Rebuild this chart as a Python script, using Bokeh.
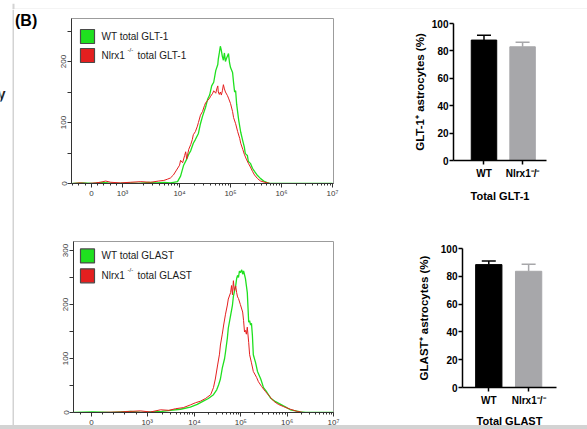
import numpy as np
from bokeh.plotting import figure
from bokeh.layouts import row, column
from bokeh.models import Range1d, FixedTicker, Whisker, TeeHead, ColumnDataSource
from bokeh.embed import file_html
from bokeh.resources import INLINE
from bokeh.core.properties import value

# ---------------- data ----------------
# Flow histograms: x = fluorescence in log10 display units, y = cell count
glt_wt_x = [1.90, 2.10, 2.30, 2.45, 2.60, 2.80, 3.00, 3.20, 3.40, 3.55,
            3.70, 3.82, 3.88, 3.96, 4.02, 4.08, 4.14, 4.18, 4.22, 4.27,
            4.31, 4.37, 4.41, 4.45, 4.51, 4.55, 4.59, 4.63, 4.67, 4.71,
            4.75, 4.76, 4.78, 4.80, 4.82, 4.84, 4.86, 4.88, 4.90, 4.92,
            4.96, 4.98, 5.00, 5.04, 5.06, 5.08, 5.10, 5.12, 5.16, 5.20,
            5.24, 5.27, 5.29, 5.33, 5.35, 5.39, 5.43, 5.47, 5.53, 5.59,
            5.65, 5.71, 5.78, 6.00, 6.50, 7.00]
glt_wt_y = [0, 1, 0, 2, 1, 0, 1, 0, 2, 1,
            2, 1, 2, 3, 12, 30, 40, 48, 54, 66,
            72, 82, 98, 110, 125, 138, 145, 160, 166, 185,
            195, 204, 214, 225, 218, 208, 202, 214, 200, 205,
            213, 198, 190, 182, 165, 150, 152, 130, 104, 84,
            70, 60, 49, 46, 36, 33, 25, 20, 13, 8,
            4, 2, 0, 0, 0, 0]
glt_ko_x = [1.90, 2.05, 2.20, 2.35, 2.45, 2.55, 2.65, 2.84, 3.04, 3.24,
            3.43, 3.59, 3.69, 3.76, 3.82, 3.88, 3.94, 4.00, 4.02, 4.06,
            4.10, 4.12, 4.14, 4.18, 4.22, 4.25, 4.27, 4.31, 4.35, 4.37,
            4.41, 4.45, 4.49, 4.51, 4.55, 4.59, 4.61, 4.65, 4.67, 4.71,
            4.73, 4.75, 4.76, 4.78, 4.80, 4.82, 4.84, 4.86, 4.88, 4.90,
            4.94, 4.96, 5.00, 5.04, 5.06, 5.10, 5.14, 5.18, 5.20, 5.24,
            5.27, 5.31, 5.35, 5.39, 5.43, 5.47, 5.53, 5.59, 5.67, 5.78,
            6.20, 7.00]
glt_ko_y = [0, 1, 0, 1, 2, 4, 2, 1, 2, 3,
            2, 4, 5, 7, 9, 14, 22, 30, 38, 34,
            46, 52, 40, 56, 64, 72, 80, 85, 94, 100,
            112, 118, 128, 132, 136, 140, 143, 148, 152, 148,
            155, 160, 150, 146, 150, 145, 152, 162, 155, 150,
            144, 140, 131, 118, 108, 98, 85, 74, 66, 56,
            48, 40, 33, 27, 20, 14, 8, 4, 2, 0,
            0, 0]
glast_wt_x = [1.40, 1.80, 2.20, 2.62, 2.85, 3.05, 3.30, 3.48, 3.70, 3.91,
              4.06, 4.19, 4.30, 4.41, 4.48, 4.52, 4.56, 4.60, 4.65, 4.67,
              4.71, 4.73, 4.78, 4.82, 4.84, 4.89, 4.91, 4.93, 4.95, 4.97,
              4.99, 5.02, 5.04, 5.06, 5.08, 5.10, 5.12, 5.14, 5.17, 5.19,
              5.21, 5.23, 5.25, 5.27, 5.32, 5.36, 5.43, 5.49, 5.56, 5.64,
              5.75, 5.86, 5.97, 6.07, 6.18, 6.29, 6.40, 7.00]
glast_wt_y = [0, 1, 0, 2, 0, 1, 2, 4, 6, 10,
              15, 21, 26, 33, 42, 51, 62, 82, 100, 112,
              138, 156, 180, 199, 215, 235, 248, 254, 250, 262,
              259, 264, 256, 262, 255, 248, 235, 222, 167, 170,
              162, 165, 143, 107, 92, 76, 62, 46, 38, 27,
              20, 15, 10, 5, 3, 1, 0, 0]
glast_ko_x = [1.40, 1.90, 2.40, 2.60, 2.83, 3.05, 3.27, 3.45, 3.59, 3.76,
              3.91, 4.02, 4.13, 4.24, 4.35, 4.41, 4.45, 4.50, 4.54, 4.56,
              4.60, 4.63, 4.67, 4.71, 4.73, 4.78, 4.80, 4.82, 4.84, 4.86,
              4.89, 4.91, 4.93, 4.95, 4.99, 5.04, 5.06, 5.08, 5.10, 5.12,
              5.14, 5.17, 5.19, 5.23, 5.27, 5.34, 5.38, 5.45, 5.53, 5.62,
              5.71, 5.81, 5.92, 6.07, 6.22, 6.35, 7.00]
glast_ko_y = [0, 0, 1, 2, 3, 1, 5, 4, 7, 9,
              14, 18, 21, 26, 33, 46, 62, 88, 108, 125,
              145, 162, 182, 199, 210, 222, 235, 218, 244, 226,
              234, 222, 214, 211, 200, 186, 170, 149, 152, 145,
              158, 130, 107, 92, 76, 65, 57, 48, 39, 30,
              21, 15, 11, 6, 2, 0, 0]

hist_tick_labels = ["0", "10\u00b3", "10\u2074", "10\u2075", "10\u2076", "10\u2077"]
glt_tick_pos = [2.27, 2.88, 4, 5, 6, 7]
glast_tick_pos = [1.78, 2.98, 4, 5, 6, 7]
glt_count_ticks = [0, 100, 200]
glast_count_ticks = [0, 100, 200, 300]

legend_glt = ["WT total GLT-1", "Nlrx1", "-/-", "total GLT-1"]
legend_glast = ["WT total GLAST", "Nlrx1", "-/-", "total GLAST"]

groups = ["WT", "Nlrx1\u207b/\u207b"]
glt_mean = [87.9, 83.0]
glt_err = [3.6, 3.4]
glast_mean = [88.4, 83.6]
glast_err = [2.6, 5.1]
pct_ticks = [0, 20, 40, 60, 80, 100]

panel_tag = "(B)"

FONT = "Liberation Sans"
GREEN = "#1fe01f"
RED = "#e41f1f"
GREY_BAR = "#a7a7aa"
BAND = "#d3d3d3"


def mapper(frame, xr, yr):
    l, r, t, b = frame
    def f(rx, ry):
        return (xr[0] + (rx - l) / (r - l) * (xr[1] - xr[0]),
                yr[0] + (b - ry) / (b - t) * (yr[1] - yr[0]))
    return f


def hist_minor(tick_pos, xr):
    zero, t3 = tick_pos[0], tick_pos[1]
    step = (t3 - zero) / 5
    ticks = []
    v = zero - step
    while v > xr[0]:
        ticks.append(v)
        v -= step
    ticks += [zero + step * i for i in range(1, 5)]
    ticks += [k + np.log10(m) for k in range(3, 7) for m in range(2, 10)
              if k + np.log10(m) > t3 + 0.05]
    return ticks


def make_hist(width, height, mb_left, fw, mb_top, fh, xr, yr, xticks, yticks,
              wt_x, wt_y, ko_x, ko_y, legend, frame_ref, leg_y):
    p = figure(width=width, height=height, x_range=Range1d(*xr), y_range=Range1d(*yr),
               output_backend="svg", toolbar_location=None, frame_align=False,
               min_border_left=mb_left, min_border_right=width - mb_left - fw,
               min_border_top=mb_top, min_border_bottom=height - mb_top - fh)
    p.grid.visible = False
    p.outline_line_color = "#9c9c9c"
    p.outline_line_width = 1
    xa = p.xaxis[0]
    xa.ticker = FixedTicker(ticks=xticks, minor_ticks=hist_minor(xticks, xr))
    xa.major_label_overrides = dict(zip(xticks, hist_tick_labels))
    ya = p.yaxis[0]
    ya.ticker = FixedTicker(ticks=yticks, minor_ticks=[t + 50 for t in yticks])
    ya.major_label_orientation = "vertical"
    for ax in (xa, ya):
        ax.axis_line_color = "#333333"
        ax.major_tick_line_color = "#333333"
        ax.minor_tick_line_color = "#333333"
        ax.major_tick_out = 4
        ax.major_tick_in = 0
        ax.minor_tick_in = 0
        ax.major_label_standoff = 1
        ax.major_label_text_font = FONT
        ax.major_label_text_font_size = "8px"
        ax.major_label_text_color = "#3a3a3a"
    xa.minor_tick_out = 2
    ya.minor_tick_out = 4

    p.line(wt_x, wt_y, line_color=GREEN, line_width=1.3)
    p.line(ko_x, ko_y, line_color=RED, line_width=1.0)

    to = mapper(frame_ref, xr, yr)
    g_y, r_y = leg_y
    bx, by1 = to(87, g_y)
    _, by2 = to(87, r_y)
    p.rect(x=[bx, bx], y=[by1, by2], width=14, height=14, width_units="screen",
           height_units="screen", fill_color=[GREEN, RED], line_color="#4a4a4a", line_width=1.2)
    tx, _ = to(101, 0)
    sx, sy = to(127, r_y - 6)
    ex, _ = to(137, 0)
    common = dict(text_font=value(FONT), text_baseline="middle", text_align="left", text_color="#1a1a1a")
    p.text(x=[tx, tx, ex], y=[by1, by2, by2], text=[legend[0], legend[1], legend[3]],
           text_font_size="10px", **common)
    p.text(x=[sx], y=[sy], text=[legend[2]], text_font_size="6px", **common)
    return p


def make_bar(height, mb_left, fw, mb_top, fh, xr, means, errs, ylabel, xlabel,
             ylab_standoff, xlab_standoff):
    p = figure(width=241, height=height, x_range=Range1d(*xr), y_range=Range1d(0, 100),
               output_backend="svg", toolbar_location=None, frame_align=False,
               min_border_left=mb_left, min_border_right=241 - mb_left - fw,
               min_border_top=mb_top, min_border_bottom=height - mb_top - fh)
    p.grid.visible = False
    p.outline_line_color = None
    bar_x = list(range(1, len(groups) + 1))
    colors = ["#000000", GREY_BAR]
    p.vbar(x=bar_x, top=means, width=0.66, bottom=0, fill_color=colors, line_color=colors)
    for bx, m, e, c in zip(bar_x, means, errs, colors):
        src = ColumnDataSource(dict(base=[bx], lower=[m], upper=[m + e]))
        p.add_layout(Whisker(source=src, base="base", lower="lower", upper="upper",
                             line_color=c, line_width=1.5, lower_head=None,
                             upper_head=TeeHead(size=14, line_color=c, line_width=1.5)))
    xa = p.xaxis[0]
    ya = p.yaxis[0]
    xa.ticker = FixedTicker(ticks=bar_x)
    xa.major_label_overrides = dict(zip(bar_x, groups))
    ya.ticker = FixedTicker(ticks=pct_ticks)
    xa.axis_label = xlabel
    ya.axis_label = ylabel
    for ax in (xa, ya):
        ax.axis_line_color = "black"
        ax.axis_line_width = 1.5
        ax.major_tick_line_color = "black"
        ax.major_tick_line_width = 1.5
        ax.major_tick_out = 4
        ax.major_tick_in = 0
        ax.minor_tick_line_color = None
        ax.major_label_text_font = FONT
        ax.major_label_text_font_size = "10px"
        ax.major_label_text_font_style = "bold"
        ax.major_label_text_color = "black"
        ax.axis_label_text_font = FONT
        ax.axis_label_text_font_style = "bold"
        ax.axis_label_text_color = "black"
    ya.axis_label_text_font_size = "11.5px"
    xa.axis_label_text_font_size = "11px"
    ya.major_label_standoff = 1
    ya.axis_label_standoff = ylab_standoff
    xa.major_label_standoff = 3
    xa.axis_label_standoff = xlab_standoff
    return p


def deco(width, height):
    f = figure(width=width, height=height, x_range=Range1d(0, width), y_range=Range1d(height, 0),
               output_backend="svg", toolbar_location=None, x_axis_type=None, y_axis_type=None,
               min_border=0, min_border_left=0, min_border_right=0, min_border_top=0,
               min_border_bottom=0, frame_align=False)
    f.grid.visible = False
    f.outline_line_color = None
    return f


# ---- grey left band of the source screenshot (page y 9..429)
strip = deco(14, 420)
strip.quad(left=[12], right=[14], top=[0], bottom=[420], fill_color=BAND, line_color=None)
strip.text(x=[5], y=[84], text=["y"], text_font=value(FONT), text_font_size="14px",
           text_font_style="bold", text_align="right", text_baseline="middle", text_color="#222222")

# ---- row 1 (page y 9..215)
tag = deco(36, 206)
tag.text(x=[0.5], y=[10.5], text=[panel_tag], text_font=value(FONT), text_font_size="16px",
         text_font_style="bold", text_align="left", text_baseline="middle", text_color="black")
h1 = make_hist(296, 206, 21, 262, 9, 165, (1.88, 7.02), (0, 270.5), glt_tick_pos, glt_count_ticks,
               glt_wt_x, glt_wt_y, glt_ko_x, glt_ko_y, legend_glt, (71, 333, 18, 183), (36, 55))
b1 = make_bar(206, 107, 93, 14, 137, (0.21, 2.62), glt_mean, glt_err,
              "GLT-1\u207a astrocytes (%)", "Total GLT-1", 3, 8)

# ---- row 2 (page y 215..429)
h2 = make_hist(332, 214, 59, 260, 26, 172, (1.39, 7.0), (0, 316.6), glast_tick_pos, glast_count_ticks,
               glast_wt_x, glast_wt_y, glast_ko_x, glast_ko_y, legend_glast, (73, 333, 241, 413), (255.5, 275.5))
b2 = make_bar(214, 116, 94, 33, 139, (0.34, 2.70), glast_mean, glast_err,
              "GLAST\u207a astrocytes (%)", "Total GLAST", 8, 6)

# ---- top band of the source screenshot
top = deco(587, 9)
top.quad(left=[12, 12], right=[587, 14], top=[5.3, 0], bottom=[8.3, 9], fill_color=BAND, line_color=None)

page = column(top,
              row(strip,
                  column(row(tag, h1, b1, spacing=0), row(h2, b2, spacing=0), spacing=0),
                  spacing=0),
              spacing=0, width=587, height=429,
              styles={"overflow": "hidden", "box-sizing": "border-box",
                      "border-bottom": "4px solid " + BAND})

open("out.html", "w").write(file_html(page, INLINE))
